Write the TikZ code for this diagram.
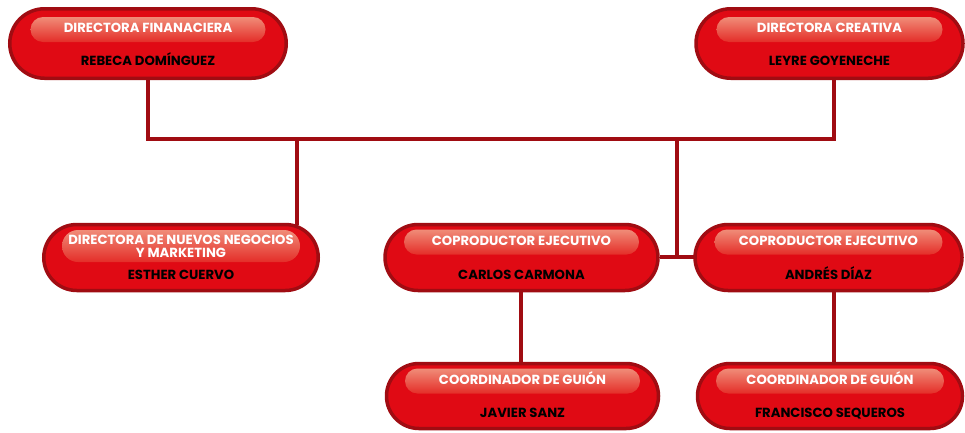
\documentclass[tikz,border=0pt]{standalone}
\usepackage{fontspec}
\setmainfont{Poppins}
\usetikzlibrary{shapes.misc}
\definecolor{boxred}{RGB}{224,10,20}
\definecolor{bdr}{RGB}{160,12,18}
\definecolor{hltop}{RGB}{240,140,120}
\definecolor{hlbot}{RGB}{228,45,40}
\tikzset{
  pill/.style={rounded rectangle, draw=bdr, line width=3.5pt, fill=boxred,
    minimum height=#1, inner sep=0pt},
  pill/.default=70pt,
  hl/.style={rounded rectangle, top color=hltop, bottom color=hlbot, draw=none,
    minimum height=25pt, inner sep=0pt},
  ttl/.style={text=white, font=\bfseries\fontsize{13.2}{13}\selectfont, align=center, inner sep=0pt, anchor=base},
  nm/.style={text=black, font=\bfseries\fontsize{13.2}{13}\selectfont, inner sep=0pt, anchor=base},
  conn/.style={draw=bdr, line width=4pt}
}
\begin{document}
\begin{tikzpicture}[x=1pt,y=-1pt]
\useasboundingbox (0,0) rectangle (965,432);
% connectors
\coordinate (j1) at (148,139);
\coordinate (j2) at (834,139);
\coordinate (j3) at (297,139);
\coordinate (j4) at (677,139);
\coordinate (j5) at (677,257);
\draw[conn] (148,78) -- (j1) -- (j2) -- (834,78);
\draw[conn] (j3) -- (297,225);
\draw[conn] (j4) -- (j5);
\draw[conn] (660,257) -- (695,257);
\draw[conn] (521,290) -- (521,364);
\draw[conn] (834,290) -- (834,364);
% boxes
\node[pill=69.5pt, minimum width=276.5pt] (b1) at (148,43.5) {};
\node[pill=69.5pt, minimum width=267pt] (b2) at (829.5,43.5) {};
\node[pill=66pt, minimum width=274.5pt] (b3) at (181,257.5) {};
\node[pill=66pt, minimum width=273pt] (b4) at (521.5,257.5) {};
\node[pill=66pt, minimum width=267pt] (b5) at (828.5,257.5) {};
\node[pill=65pt, minimum width=272pt] (b6) at (522.5,396) {};
\node[pill=65pt, minimum width=265pt] (b7) at (830,396) {};
% highlights
\node[hl, minimum width=235pt] (h1) at (148,29.5) {};
\node[hl, minimum width=226pt] (h2) at (829.5,29.5) {};
\node[hl, minimum width=238pt, minimum height=32pt] (h3) at (181,246) {};
\node[hl, minimum width=235pt] (h4) at (521.5,242) {};
\node[hl, minimum width=228pt] (h5) at (828.5,242) {};
\node[hl, minimum width=235pt] (h6) at (522.5,381) {};
\node[hl, minimum width=228pt] (h7) at (830,381) {};
% texts
\node[ttl] (t1) at (148,32.6) {DIRECTORA FINANACIERA};
\node[nm] (n1) at (148,65.6) {REBECA DOMÍNGUEZ};
\node[ttl] (t2) at (829.5,32.6) {DIRECTORA CREATIVA};
\node[nm] (n2) at (829.5,65.6) {LEYRE GOYENECHE};
\node[ttl, anchor=center] (t3) at (181,246.5) {DIRECTORA DE NUEVOS NEGOCIOS\\Y MARKETING};
\node[nm] (n3) at (181,279.6) {ESTHER CUERVO};
\node[ttl] (t4) at (521.5,245.6) {COPRODUCTOR EJECUTIVO};
\node[nm] (n4) at (521.5,279.6) {CARLOS CARMONA};
\node[ttl] (t5) at (828.5,245.6) {COPRODUCTOR EJECUTIVO};
\node[nm] (n5) at (828.5,279.6) {ANDRÉS DÍAZ};
\node[ttl] (t6) at (522.5,384.6) {COORDINADOR DE GUIÓN};
\node[nm] (n6) at (522.5,417.6) {JAVIER SANZ};
\node[ttl] (t7) at (830,384.6) {COORDINADOR DE GUIÓN};
\node[nm] (n7) at (830,417.6) {FRANCISCO SEQUEROS};
\end{tikzpicture}
\end{document}
